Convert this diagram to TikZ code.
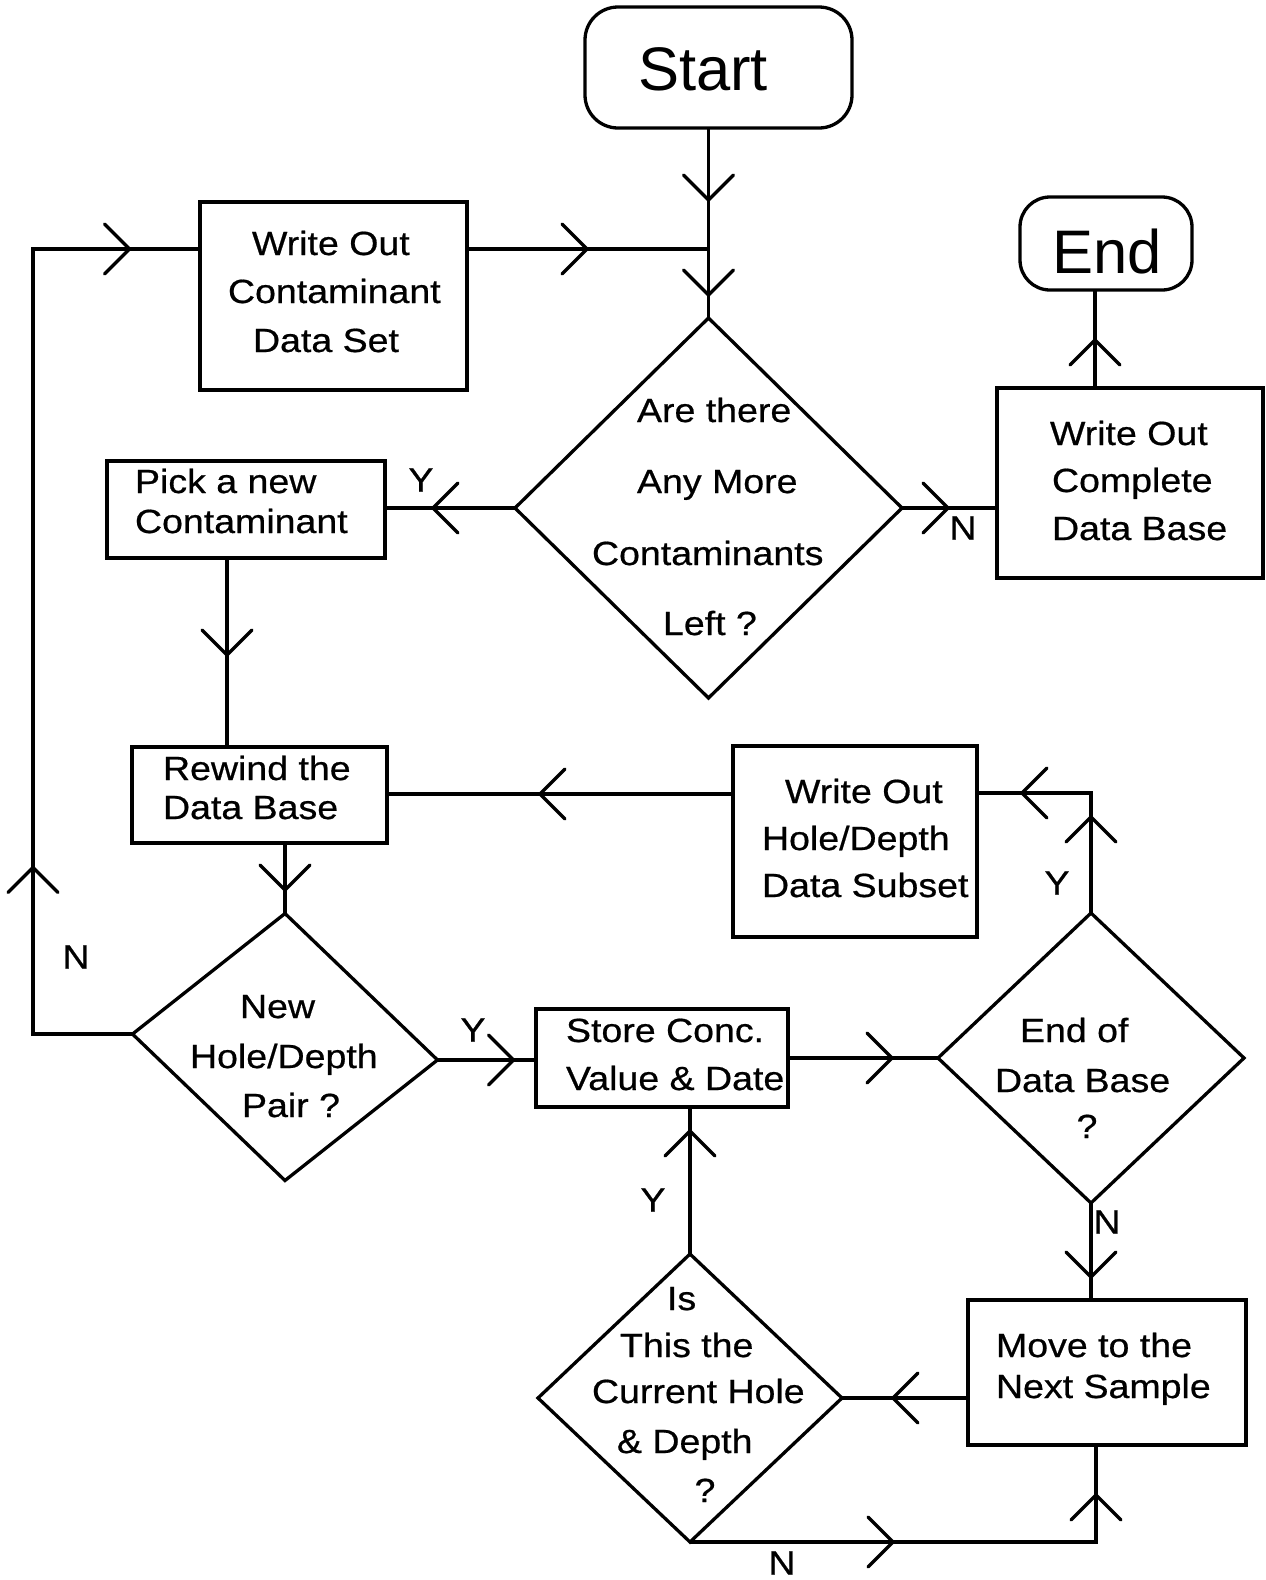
\documentclass[tikz,border=0pt]{standalone}
\usepackage{fontspec}
\setmainfont{Liberation Sans}
\newfontfamily\bodyf[FakeStretch=1.12,FakeBold=0.6]{Liberation Sans}
\usetikzlibrary{shapes.geometric,decorations.markings}
\newcommand\mychev{\draw[line cap=round,line join=miter] (-25pt,25pt) -- (0pt,0pt) -- (-25pt,-25pt);}
\begin{document}
\begin{tikzpicture}[x=1pt,y=-1pt,line width=3.3pt,
  box/.style={draw,rectangle,inner sep=0pt,outer sep=0pt},
  term/.style={box,rounded corners=#1},
  dec/.style={draw,diamond,inner sep=0pt,outer sep=0pt},
  txt/.style={inner sep=0pt,outer sep=0pt,font=\bodyf\fontsize{33.5}{40}\selectfont},
  big/.style={inner sep=0pt,outer sep=0pt,font=\fontsize{61.5}{70}\selectfont},
  mk/.style={postaction={decorate,decoration={markings,#1}}}]
\fill[white] (0,0) rectangle (1266,1580);
\useasboundingbox (0,0) rectangle (1266,1580);

% ---------- shapes ----------
\node[term=33pt,minimum width=267pt,minimum height=121pt] (start) at (718.5,67.5) {};
\node[term=30pt,minimum width=172pt,minimum height=93pt] (end) at (1106,243.5) {};
\node[box,minimum width=267pt,minimum height=188pt] (wocds) at (333.5,296) {};
\node[dec,minimum width=387pt,minimum height=380pt] (d1) at (708.5,508) {};
\node[box,minimum width=266pt,minimum height=190pt] (wocdb) at (1130,483) {};
\node[box,minimum width=278pt,minimum height=97pt] (pick) at (246,509.5) {};
\node[box,minimum width=255pt,minimum height=96pt] (rewind) at (259.5,795) {};
\node[box,minimum width=244pt,minimum height=191pt] (wohds) at (855,841.5) {};
\begin{scope}[shift={(285,1047)},yslant=-0.085]
  \node[dec,transform shape,minimum width=305pt,minimum height=267pt] (d2) at (0,0) {};
\end{scope}
\node[box,minimum width=252pt,minimum height=98pt] (store) at (662,1058) {};
\node[dec,minimum width=306pt,minimum height=290pt] (d3) at (1091,1058) {};
\node[box,minimum width=278pt,minimum height=145pt] (move) at (1107,1372.5) {};
\node[dec,minimum width=304pt,minimum height=288pt] (d4) at (690,1398) {};

% ---------- texts ----------
\node[big,anchor=base west] (tstart) at (638,90) {Start};
\node[big,anchor=base west] (tend) at (1052,273) {End};

\node[txt,anchor=base west] (t1a) at (252,255) {Write Out};
\node[txt,anchor=base west] (t1b) at (228,303) {Contaminant};
\node[txt,anchor=base west] (t1c) at (253,352) {Data Set};

\node[txt,anchor=base west] (t2a) at (637,422) {Are there};
\node[txt,anchor=base west] (t2b) at (637,493) {Any More};
\node[txt,anchor=base west] (t2c) at (592,565) {Contaminants};
\node[txt,anchor=base west] (t2d) at (663,635) {Left ?};

\node[txt,anchor=base west] (t3a) at (1050,445) {Write Out};
\node[txt,anchor=base west] (t3b) at (1052,492) {Complete};
\node[txt,anchor=base west] (t3c) at (1052,540) {Data Base};

\node[txt,anchor=base west] (t4a) at (135,493) {Pick a new};
\node[txt,anchor=base west] (t4b) at (135,533) {Contaminant};

\node[txt,anchor=base west] (t5a) at (163,780) {Rewind the};
\node[txt,anchor=base west] (t5b) at (163,819) {Data Base};

\node[txt,anchor=base west] (t6a) at (240,1018) {New};
\node[txt,anchor=base west] (t6b) at (190,1068) {Hole/Depth};
\node[txt,anchor=base west] (t6c) at (242,1117) {Pair ?};

\node[txt,anchor=base west] (t7a) at (566,1042) {Store Conc.};
\node[txt,anchor=base west] (t7b) at (566,1090) {Value \& Date};

\node[txt,anchor=base west] (t8a) at (785,803) {Write Out};
\node[txt,anchor=base west] (t8b) at (762,850) {Hole/Depth};
\node[txt,anchor=base west] (t8c) at (762,897) {Data Subset};

\node[txt,anchor=base west] (t9a) at (1020,1042) {End of};
\node[txt,anchor=base west] (t9b) at (995,1092) {Data Base};
\node[txt,anchor=base] (t9c) at (1087,1138) {?};

\node[txt,anchor=base west] (t10a) at (996,1357) {Move to the};
\node[txt,anchor=base west] (t10b) at (996,1398) {Next Sample};

\node[txt,anchor=base west] (t11a) at (667,1310) {Is};
\node[txt,anchor=base west] (t11b) at (620,1357) {This the};
\node[txt,anchor=base west] (t11c) at (592,1403) {Current Hole};
\node[txt,anchor=base west] (t11d) at (617,1453) {\& Depth};
\node[txt,anchor=base] (t11e) at (705,1502) {?};

% branch labels
\node[txt] (lY1) at (421,480) {Y};
\node[txt] (lN1) at (963,528) {N};
\node[txt] (lN2) at (76,957) {N};
\node[txt] (lY2) at (473,1030) {Y};
\node[txt] (lY3) at (1057,883) {Y};
\node[txt] (lN3) at (1107,1222) {N};
\node[txt] (lY4) at (653,1200) {Y};
\node[txt] (lN4) at (782,1563) {N};

% ---------- helper coordinates ----------
\coordinate (loopTop) at (33,249);
\coordinate (j1) at (d1.north |- loopTop);
\coordinate (eX) at (1095,0);
\coordinate (gX) at (227,0);
\coordinate (hY) at (0,794);
\coordinate (lY) at (0,793);
\coordinate (pX) at (1096,0);

% ---------- connectors ----------
\draw[mk={mark=at position 72pt with {\mychev},mark=at position 167pt with {\mychev}}]
  (d1.north |- start.south) -- (d1.north);
\draw[mk={mark=at position 120pt with {\mychev}}]
  (wocds.east |- j1) -- (j1);
\draw[mk={mark=at position 266pt with {\mychev},mark=at position 981pt with {\mychev}}]
  (d2.west) -| (loopTop) -- (wocds.west |- loopTop);
\draw[mk={mark=at position 82pt with {\mychev}}]
  (d1.west) -- (pick.east |- d1.west);
\draw[mk={mark=at position 46pt with {\mychev}}]
  (d1.east) -- (wocdb.west |- d1.east);
\draw[mk={mark=at position 48pt with {\mychev}}]
  (wocdb.north -| eX) -- (end.south -| eX);
\draw[mk={mark=at position 97pt with {\mychev}}]
  (pick.south -| gX) -- (rewind.north -| gX);
\draw[mk={mark=at position 193pt with {\mychev}}]
  (wohds.west |- hY) -- (rewind.east |- hY);
\draw[mk={mark=at position 47pt with {\mychev}}]
  (d2.north |- rewind.south) -- (d2.north);
\draw[mk={mark=at position 76pt with {\mychev}}]
  (d2.east) -- (store.west |- d2.east);
\draw[mk={mark=at position 104pt with {\mychev}}]
  (store.east |- d3.west) -- (d3.west);
\draw[mk={mark=at position 96pt with {\mychev},mark=at position 189pt with {\mychev}}]
  (d3.north) -- (d3.north |- lY) -- (wohds.east |- lY);
\draw[mk={mark=at position 74pt with {\mychev}}]
  (d3.south) -- (move.north -| d3.south);
\draw[mk={mark=at position 75pt with {\mychev}}]
  (move.west |- d4.east) -- (d4.east);
\draw[mk={mark=at position 123pt with {\mychev}}]
  (d4.north) -- (store.south -| d4.north);
\draw[mk={mark=at position 203pt with {\mychev},mark=at position 453pt with {\mychev}}]
  (d4.south) -- (d4.south -| pX) -- (move.south -| pX);
\end{tikzpicture}
\end{document}
